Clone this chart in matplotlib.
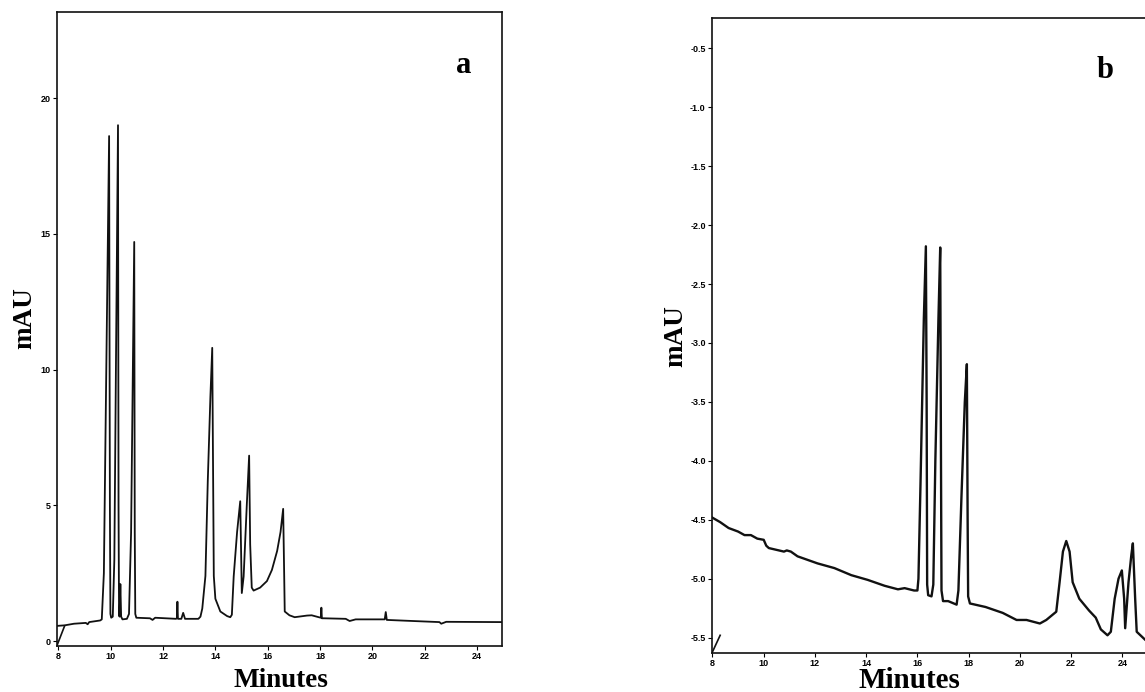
import matplotlib
matplotlib.use("Agg")
import matplotlib.pyplot as plt

plt.rcParams['axes.unicode_minus'] = False

# Хроматограмма a: время (мин) и сигнал (mAU), точки
time_a = [7.95, 8.24, 8.6, 9.05, 9.12, 9.18, 9.6,
          9.66, 9.74, 9.82, 9.94, 9.97, 9.99, 10.02,
          10.08, 10.14, 10.20, 10.28, 10.30, 10.32,
          10.34, 10.37, 10.40, 10.45, 10.62,
          10.70, 10.78, 10.90, 10.92, 10.94, 10.98,
          11.5, 11.6, 11.7, 12.5,
          12.53, 12.55, 12.57, 12.70, 12.77, 12.84, 13.35,
          13.43, 13.50, 13.62, 13.71, 13.81, 13.88, 13.94, 14.0, 14.19, 14.45, 14.57,
          14.63, 14.70, 14.83, 14.95, 15.01,
          15.08, 15.20, 15.29, 15.33, 15.39,
          15.46, 15.71, 15.97, 16.16, 16.36, 16.49, 16.59, 16.63, 16.65, 16.83, 17.03,
          17.5, 17.68, 17.95, 18.03, 18.05, 18.07, 18.14, 18.98, 19.13, 19.36,
          20.47, 20.51, 20.55, 21.54, 22.56, 22.63, 22.82, 24.93]
signal_a = [0.56, 0.58, 0.64, 0.67, 0.62, 0.70, 0.76,
            0.80, 2.5, 9.0, 18.6, 5.0, 1.0, 0.86,
            0.90, 3.0, 10.0, 19.0, 5.0, 0.95,
            0.90, 2.1, 0.90, 0.80, 0.82,
            1.0, 4.0, 14.7, 4.0, 1.0, 0.86,
            0.84, 0.78, 0.86, 0.82,
            0.85, 1.45, 0.82, 0.82, 1.04, 0.82, 0.82,
            0.90, 1.2, 2.4, 5.9, 9.0, 10.8, 2.4, 1.56, 1.09, 0.92, 0.88,
            0.97, 2.38, 4.02, 5.15, 1.77,
            2.38, 5.0, 6.83, 3.56, 1.97,
            1.86, 1.97, 2.21, 2.62, 3.32, 4.02, 4.87, 2.38, 1.09, 0.95, 0.88,
            0.94, 0.95, 0.88, 0.86, 1.23, 0.84, 0.84, 0.82, 0.74, 0.80,
            0.80, 1.07, 0.78, 0.74, 0.70, 0.64, 0.71, 0.70]
start_mark_a_t = [7.95, 8.24]
start_mark_a_y = [-0.16, 0.56]

# Хроматограмма b
time_b = [7.98, 8.3, 8.63, 9.0, 9.25, 9.5, 9.75, 10.0, 10.1, 10.2, 10.79, 10.9, 11.06,
          11.32, 11.71, 12.1, 12.76, 13.42, 14.06, 14.72, 15.24, 15.5, 15.87, 16.0,
          16.04, 16.12, 16.25, 16.33, 16.36, 16.38, 16.42, 16.55,
          16.62, 16.70, 16.82, 16.89, 16.92, 16.94, 17.0, 17.2, 17.53,
          17.60, 17.72, 17.85, 17.93, 17.96, 17.98, 18.05, 18.66, 19.33, 19.87, 20.26,
          20.78, 21.03, 21.42,
          21.55, 21.68, 21.81, 21.94, 22.06, 22.32, 22.7, 22.96, 23.16, 23.42, 23.55,
          23.7, 23.85, 23.98, 24.07, 24.11,
          24.24, 24.35, 24.41, 24.5, 24.56, 24.9, 25.0]
signal_b = [-4.48, -4.52, -4.57, -4.60, -4.63, -4.63, -4.66, -4.67, -4.72, -4.74, -4.77, -4.76, -4.77,
            -4.81, -4.84, -4.87, -4.91, -4.97, -5.01, -5.06, -5.09, -5.08, -5.10, -5.10,
            -5.0, -4.2, -2.8, -2.18, -3.5, -5.05, -5.14, -5.15,
            -5.05, -4.0, -2.8, -2.19, -4.0, -5.1, -5.19, -5.19, -5.22,
            -5.1, -4.3, -3.5, -3.18, -4.5, -5.15, -5.21, -5.24, -5.29, -5.35, -5.35,
            -5.38, -5.35, -5.28,
            -5.03, -4.77, -4.68, -4.77, -5.03, -5.17, -5.27, -5.33, -5.43, -5.48, -5.45,
            -5.17, -5.0, -4.93, -5.17, -5.42,
            -5.03, -4.8, -4.70, -5.17, -5.45, -5.52, -5.53]
start_mark_b_t = [7.98, 8.3]
start_mark_b_y = [-5.63, -5.48]

ticks_x = [8, 10, 12, 14, 16, 18, 20, 22, 24]
ticks_a_y = [0, 5, 10, 15, 20]
ticks_b_y = [-0.5, -1.0, -1.5, -2.0, -2.5, -3.0, -3.5, -4.0, -4.5, -5.0, -5.5]

serif = 'Liberation Serif'
sans = 'Liberation Sans'

fig = plt.figure(figsize=(11.45, 6.92), dpi=100)
ax_a = fig.add_axes([0.0498, 0.0665, 0.3886, 0.9162])
ax_b = fig.add_axes([0.6218, 0.0564, 0.3808, 0.9176])


def style_axis(ax):
    for sp in ax.spines.values():
        sp.set_linewidth(1.2)
        sp.set_color('#111111')
    ax.tick_params(direction='out', length=3, width=0.8, pad=1.5,
                   top=False, right=False)
    for lab in ax.get_xticklabels() + ax.get_yticklabels():
        lab.set_fontfamily(sans)
        lab.set_fontweight('bold')
        lab.set_fontsize(6.5)


# График a
ax_a.plot(time_a, signal_a, color='#111111', linewidth=1.3)
ax_a.plot(start_mark_a_t, start_mark_a_y, color='#111111', linewidth=1.2)
ax_a.set_xlim(7.95, 24.95)
ax_a.set_ylim(-0.18, 23.17)
ax_a.set_xticks(ticks_x)
ax_a.set_yticks(ticks_a_y)
style_axis(ax_a)
ax_a.set_xlabel('Minutes', fontfamily=serif, fontweight='bold', fontsize=19.5)
ax_a.set_ylabel('mAU', fontfamily=serif, fontweight='bold', fontsize=19.5)
ax_a.xaxis.label.set_verticalalignment('baseline')
ax_a.xaxis.set_label_coords(0.503, -0.0647)
ax_a.yaxis.label.set_verticalalignment('center')
ax_a.yaxis.set_label_coords(-0.072, 0.517)
ax_a.text(0.915, 0.904, 'a', transform=ax_a.transAxes, ha='center', va='baseline',
          fontfamily=serif, fontweight='bold', fontsize=22)

# График b
ax_b.plot(time_b, signal_b, color='#111111', linewidth=1.7)
ax_b.plot(start_mark_b_t, start_mark_b_y, color='#111111', linewidth=1.2)
ax_b.set_xlim(7.98, 25.0)
ax_b.set_ylim(-5.63, -0.243)
ax_b.set_xticks(ticks_x)
ax_b.set_yticks(ticks_b_y)
style_axis(ax_b)
ax_b.set_xlabel('Minutes', fontfamily=serif, fontweight='bold', fontsize=21)
ax_b.set_ylabel('mAU', fontfamily=serif, fontweight='bold', fontsize=19.5)
ax_b.xaxis.label.set_verticalalignment('baseline')
ax_b.xaxis.set_label_coords(0.454, -0.055)
ax_b.yaxis.label.set_verticalalignment('center')
ax_b.yaxis.set_label_coords(-0.0826, 0.499)
ax_b.text(0.901, 0.9055, 'b', transform=ax_b.transAxes, ha='center', va='baseline',
          fontfamily=serif, fontweight='bold', fontsize=22)

fig.savefig('out.png', dpi=100)
